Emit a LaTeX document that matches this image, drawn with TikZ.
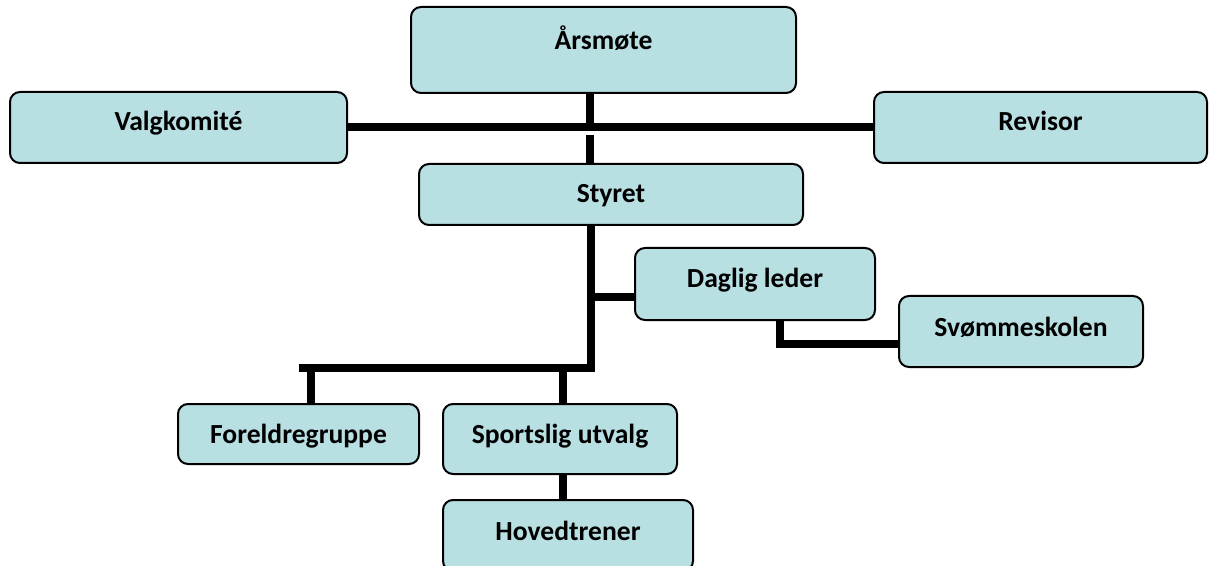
\documentclass[tikz,border=0pt]{standalone}
\usepackage{fontspec}
\setmainfont{Carlito}
\usepackage{tikz}
\definecolor{boxblue}{HTML}{B8DFE2}
\tikzstyle{unit} = [rectangle, rounded corners=5pt, draw=black, line width=1pt, fill=boxblue, text centered, font=\fontsize{13.8}{16}\selectfont\bfseries, text height=9pt, text depth=4.5pt]
\tikzstyle{link} = [line width=4pt, black]
\begin{document}
\begin{tikzpicture}[x=0.5pt, y=-0.5pt]
\useasboundingbox (0,0) rectangle (1213,566);
\node (aarsmote) [unit, minimum width=192.5pt, minimum height=43pt, text depth=9pt] at (603.5,50) {Årsmøte};
\node (valgkomite) [unit, minimum width=168.5pt, minimum height=35.5pt, text depth=5.5pt] at (178.5,127.5) {Valgkomité};
\node (revisor) [unit, minimum width=166.5pt, minimum height=35.5pt, text depth=5.5pt] at (1040.5,127.5) {Revisor};
\node (styret) [unit, minimum width=192pt, minimum height=30.5pt, text depth=0.5pt] at (611,194.5) {Styret};
\node (dagligleder) [unit, minimum width=120pt, minimum height=36pt, text depth=5pt] at (755,284) {Daglig leder};
\node (svommeskolen) [unit, minimum width=122pt, minimum height=35.5pt] at (1021,331.5) {Svømmeskolen};
\node (foreldre) [unit, minimum width=120.5pt, minimum height=30pt, text depth=0pt] at (298.5,434) {Foreldregruppe};
\node (sportslig) [unit, minimum width=117pt, minimum height=35pt, text depth=5pt] at (560,439) {Sportslig utvalg};
\node (hovedtrener) [unit, minimum width=125pt, minimum height=35.5pt] at (568,535.5) {Hovedtrener};
% junctions
\coordinate (top) at (590,124);
\coordinate (gap) at (590,135);
\coordinate (mid) at (591,297);
\coordinate (low) at (591,368);
\coordinate (left) at (299,368);
\coordinate (fdrop) at (311,368);
\coordinate (sdrop) at (563,368);
\coordinate (bend) at (780,344);
\draw [link] (valgkomite) -- (revisor);
\draw [link] (aarsmote.south -| top) -- (top);
\draw [link] (styret.north -| gap) -- (gap);
\draw [link] (styret.south -| low) -- (low) -- (left);
\draw [link] (mid) -- (dagligleder.west |- mid);
\draw [link] (dagligleder.south -| bend) -- (bend) -- (svommeskolen.west |- bend);
\draw [link] (fdrop) -- (foreldre.north -| fdrop);
\draw [link] (sdrop) -- (sportslig.north -| sdrop);
\draw [link] (sportslig.south -| sdrop) -- (hovedtrener.north -| sdrop);
\end{tikzpicture}
\end{document}
